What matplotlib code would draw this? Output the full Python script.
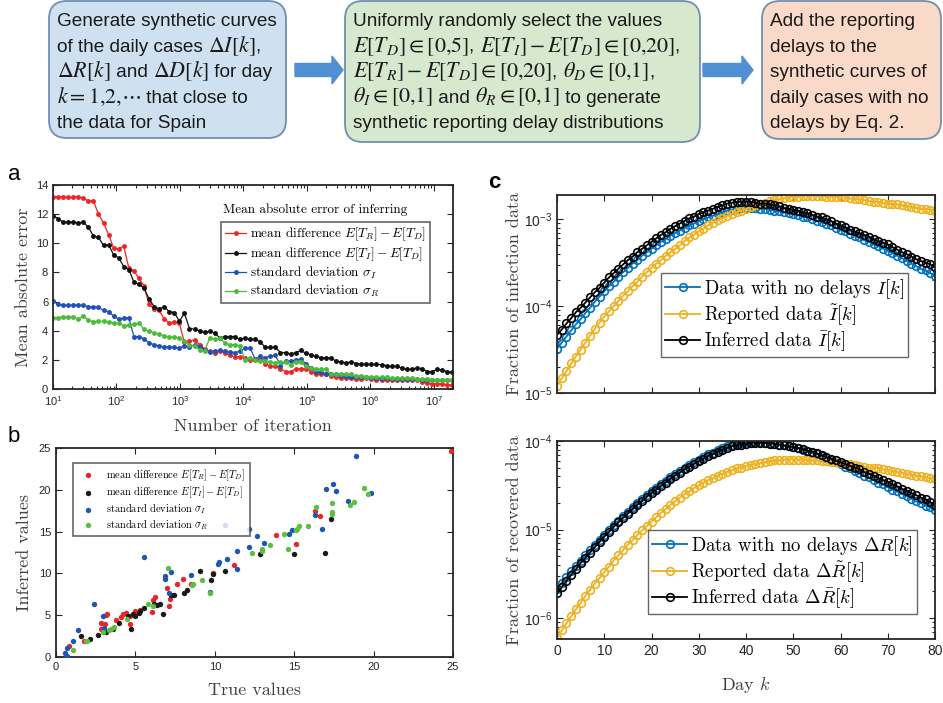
import numpy as np
import matplotlib
matplotlib.use('Agg')
import matplotlib.pyplot as plt
from matplotlib.patches import FancyBboxPatch, FancyArrow
from matplotlib.font_manager import FontProperties
from matplotlib.ticker import LogLocator, NullFormatter, MultipleLocator

plt.rcParams['font.family'] = ['Liberation Sans', 'DejaVu Sans']
plt.rcParams['mathtext.fontset'] = 'dejavusans'

# ---------------- data ----------------
# panel a: mean absolute error vs number of iteration (80 log-spaced iterations)
iterations = np.logspace(1, 7.29, 80)
mae_TR = [13.2, 13.2, 13.2, 13.15, 13.15, 13.2, 13.1, 12.9, 12.9, 12.0,
          11.4, 10.6, 9.65, 9.6, 9.8, 8.3, 8.1, 7.6, 7.1, 5.8,
          5.5, 5.4, 4.8, 4.55, 4.6, 4.5, 3.2, 3.3, 3.35, 3.05,
          2.75, 2.6, 2.5, 2.6, 2.5, 2.3, 2.2, 2.2, 2.15, 2.0,
          2.0, 2.05, 1.75, 1.55, 1.55, 1.35, 1.2, 1.2, 1.35, 1.4,
          1.4, 1.2, 1.05, 1.0, 1.05, 0.9, 0.85, 0.75, 0.75, 0.75,
          0.7, 0.7, 0.75, 0.7, 0.65, 0.6, 0.65, 0.6, 0.6, 0.6,
          0.6, 0.6, 0.65, 0.5, 0.4, 0.35, 0.35, 0.35, 0.3, 0.25]
mae_TI = [11.9, 11.7, 11.45, 11.45, 11.45, 11.4, 11.45, 11.1, 10.5, 10.4,
          9.85, 9.9, 9.2, 9.0, 8.4, 8.2, 7.35, 7.2, 6.9, 6.2,
          5.65, 5.5, 5.65, 5.3, 5.25, 4.65, 5.2, 4.15, 4.1, 4.0,
          3.9, 3.95, 3.85, 3.5, 3.6, 3.6, 3.6, 3.4, 3.5, 3.4,
          3.4, 3.25, 2.85, 2.85, 2.85, 2.5, 2.5, 2.4, 2.5, 2.65,
          2.45, 2.35, 2.25, 2.15, 2.15, 2.15, 1.9, 1.85, 1.8, 1.85,
          1.75, 1.7, 1.7, 1.7, 1.7, 1.65, 1.6, 1.55, 1.55, 1.45,
          1.35, 1.35, 1.45, 1.4, 1.2, 1.2, 1.35, 1.3, 1.2, 1.15]
mae_sI = [6.05, 5.8, 5.75, 5.75, 5.75, 5.75, 5.75, 5.65, 5.65, 5.6,
          5.4, 5.3, 5.0, 4.8, 4.85, 4.9, 3.6, 3.6, 3.45, 3.15,
          3.05, 2.95, 2.9, 2.9, 2.85, 2.8, 2.95, 2.85, 3.05, 2.9,
          2.7, 2.55, 2.6, 2.65, 2.6, 2.55, 2.5, 2.6, 2.8, 2.8,
          2.05, 2.25, 2.15, 2.25, 2.3, 1.6, 1.9, 1.9, 2.0, 2.05,
          1.75, 1.45, 1.2, 1.15, 1.05, 1.05, 1.0, 0.9, 0.9, 0.85,
          0.8, 0.8, 0.8, 0.75, 0.75, 0.7, 0.75, 0.7, 0.7, 0.7,
          0.7, 0.7, 0.7, 0.65, 0.6, 0.6, 0.6, 0.6, 0.6, 0.6]
mae_sR = [4.9, 4.9, 4.95, 4.95, 4.95, 4.8, 5.0, 4.75, 4.6, 4.65,
          4.65, 4.6, 4.55, 4.5, 4.35, 4.4, 4.45, 4.5, 4.1, 3.95,
          3.85, 3.75, 3.65, 3.55, 3.6, 3.5, 3.3, 3.05, 2.95, 2.7,
          2.6, 3.5, 3.4, 3.5, 3.15, 3.05, 3.05, 2.95, 2.0, 2.15,
          2.0, 1.9, 1.9, 1.85, 1.8, 1.85, 1.85, 1.65, 1.85, 1.85,
          1.55, 1.45, 1.4, 1.35, 1.35, 1.05, 1.0, 1.05, 1.0, 1.0,
          0.9, 0.9, 0.85, 0.85, 0.8, 0.8, 0.8, 0.75, 0.75, 0.75,
          0.75, 0.75, 0.7, 0.7, 0.7, 0.65, 0.65, 0.65, 0.65, 0.65]

# panel b: true vs inferred values
b_TR_x = [0.84, 1.77, 2.84, 2.84, 3.09, 3.16, 3.24, 3.77, 4.11, 4.25, 4.42, 4.67, 4.67, 4.99,
          5.26, 6.04, 6.11, 6.21, 6.99, 7.09, 7.16, 7.62, 7.98, 8.51, 9.87, 11.2, 13.87,
          15.14, 16.32, 16.63, 24.88]
b_TR_y = [1.36, 1.96, 3.37, 4.09, 3.93, 5.01, 5.17, 4.37, 4.81, 5.09, 5.21, 3.89, 4.89, 5.49,
          5.61, 5.37, 6.81, 7.21, 8.29, 6.09, 6.89, 8.77, 9.37, 8.77, 10.1, 10.98, 14.58,
          13.5, 17.43, 16.83, 24.6]
b_TI_x = [1.56, 2.15, 2.67, 3.16, 3.62, 3.94, 4.53, 4.72, 4.84, 4.99, 5.2, 5.31, 5.52, 6.15,
          6.36, 6.57, 6.72, 7.24, 7.45, 8.04, 8.25, 9.05, 9.79, 9.89, 10.67, 12.82, 14.99,
          16.93, 17.31]
b_TI_y = [2.56, 2.2, 2.68, 2.96, 3.29, 4.09, 4.89, 3.29, 5.09, 4.89, 5.29, 5.49, 5.81, 6.29,
          6.21, 6.29, 5.17, 7.37, 7.37, 7.69, 8.01, 10.3, 9.21, 9.9, 10.3, 12.3, 12.3,
          12.5, 16.5]
b_sI_x = [0.57, 0.67, 0.67, 1.05, 1.37, 2.42, 2.93, 3.03, 5.52, 6.84, 6.84, 7.09, 7.26, 8.51,
          9.68, 10.19, 10.29, 10.63, 10.78, 11.37, 11.41, 12.15, 12.15, 12.63, 13.09, 14.67,
          14.84, 16.29, 16.74, 16.99, 17.47, 17.62, 18.36, 18.88, 19.83]
b_sI_y = [0.48, 0.16, 1.08, 1.88, 3.21, 6.29, 4.89, 3.49, 11.98, 9.7, 9.29, 7.69, 10.18, 9.78,
          7.81, 11.1, 11.38, 15.79, 11.7, 12.7, 10.58, 15.3, 13.1, 14.42, 13.62, 14.7,
          15.18, 16.99, 15.3, 20.1, 20.7, 19.9, 18.7, 24.0, 19.63]
b_sR_x = [1.05, 1.89, 1.98, 2.95, 3.31, 3.47, 3.68, 4.46, 5.79, 6.11, 7.05, 8.57, 8.63, 9.2,
          9.68, 12.36, 12.99, 12.99, 13.47, 14.36, 14.61, 15.09, 15.2, 15.31, 15.87, 16.36,
          17.35, 17.35, 17.35, 18.53, 18.78, 19.37, 19.62]
b_sR_y = [0.88, 1.88, 1.88, 2.96, 3.21, 3.37, 3.61, 4.49, 6.37, 6.09, 10.62, 8.61, 8.69, 9.21,
          7.61, 12.42, 12.9, 12.7, 13.38, 14.7, 12.9, 15.22, 15.3, 15.7, 15.7, 17.91,
          18.43, 17.31, 17.11, 18.19, 18.51, 20.23, 19.51]

# panel c: daily fractions (log10), day 0..80
days = np.arange(81)
logI_true = [-4.49, -4.42, -4.35, -4.28, -4.21, -4.15, -4.08, -4.02, -3.95, -3.89,
             -3.83, -3.77, -3.72, -3.66, -3.61, -3.56, -3.51, -3.47, -3.42, -3.38,
             -3.34, -3.30, -3.26, -3.23, -3.19, -3.16, -3.13, -3.10, -3.07, -3.05,
             -3.02, -3.00, -2.98, -2.96, -2.94, -2.92, -2.90, -2.89, -2.88, -2.87,
             -2.87, -2.87, -2.87, -2.88, -2.88, -2.89, -2.90, -2.91, -2.92, -2.93,
             -2.94, -2.95, -2.97, -2.98, -3.00, -3.02, -3.03, -3.05, -3.07, -3.10,
             -3.12, -3.14, -3.17, -3.19, -3.21, -3.24, -3.26, -3.29, -3.31, -3.34,
             -3.36, -3.39, -3.42, -3.45, -3.48, -3.51, -3.54, -3.57, -3.59, -3.62, -3.65]
logI_rep = [-4.92, -4.83, -4.75, -4.66, -4.58, -4.50, -4.42, -4.34, -4.26, -4.19,
            -4.12, -4.06, -4.00, -3.94, -3.88, -3.83, -3.77, -3.72, -3.66, -3.61,
            -3.56, -3.51, -3.47, -3.42, -3.38, -3.34, -3.30, -3.25, -3.21, -3.18,
            -3.14, -3.11, -3.07, -3.04, -3.01, -2.99, -2.96, -2.94, -2.92, -2.90,
            -2.88, -2.86, -2.84, -2.82, -2.81, -2.79, -2.78, -2.77, -2.76, -2.75,
            -2.74, -2.74, -2.73, -2.73, -2.73, -2.73, -2.73, -2.74, -2.74, -2.74,
            -2.75, -2.75, -2.76, -2.77, -2.77, -2.78, -2.79, -2.80, -2.80, -2.81,
            -2.82, -2.83, -2.83, -2.84, -2.85, -2.86, -2.87, -2.88, -2.88, -2.89, -2.90]
logI_inf = [-4.33, -4.27, -4.20, -4.14, -4.07, -4.02, -3.96, -3.90, -3.84, -3.79,
            -3.73, -3.67, -3.62, -3.57, -3.52, -3.47, -3.43, -3.38, -3.34, -3.30,
            -3.26, -3.22, -3.18, -3.15, -3.11, -3.08, -3.05, -3.02, -2.99, -2.97,
            -2.94, -2.92, -2.90, -2.88, -2.86, -2.84, -2.82, -2.81, -2.80, -2.80,
            -2.80, -2.80, -2.81, -2.82, -2.82, -2.83, -2.84, -2.85, -2.87, -2.88,
            -2.89, -2.90, -2.92, -2.93, -2.95, -2.97, -2.98, -3.00, -3.02, -3.05,
            -3.07, -3.09, -3.12, -3.14, -3.16, -3.18, -3.20, -3.23, -3.25, -3.27,
            -3.29, -3.32, -3.35, -3.38, -3.40, -3.43, -3.46, -3.48, -3.50, -3.52, -3.55]
logR_true = [-5.67, -5.60, -5.54, -5.47, -5.41, -5.35, -5.29, -5.23, -5.17, -5.12,
             -5.06, -5.01, -4.95, -4.90, -4.85, -4.80, -4.75, -4.70, -4.66, -4.61,
             -4.57, -4.53, -4.49, -4.45, -4.41, -4.37, -4.34, -4.30, -4.27, -4.24,
             -4.21, -4.18, -4.15, -4.13, -4.10, -4.08, -4.06, -4.05, -4.03, -4.02,
             -4.01, -4.01, -4.01, -4.01, -4.02, -4.02, -4.03, -4.04, -4.05, -4.06,
             -4.07, -4.08, -4.10, -4.11, -4.13, -4.15, -4.17, -4.19, -4.21, -4.24,
             -4.26, -4.29, -4.31, -4.34, -4.36, -4.39, -4.41, -4.44, -4.47, -4.49,
             -4.52, -4.55, -4.57, -4.60, -4.62, -4.65, -4.68, -4.70, -4.73, -4.75, -4.78]
logR_rep = [-6.22, -6.14, -6.06, -5.98, -5.90, -5.83, -5.75, -5.68, -5.61, -5.55,
            -5.48, -5.42, -5.35, -5.29, -5.23, -5.17, -5.12, -5.06, -5.01, -4.96,
            -4.91, -4.86, -4.81, -4.77, -4.72, -4.68, -4.64, -4.60, -4.57, -4.53,
            -4.50, -4.47, -4.44, -4.42, -4.39, -4.37, -4.35, -4.33, -4.31, -4.30,
            -4.28, -4.27, -4.26, -4.25, -4.24, -4.23, -4.22, -4.22, -4.21, -4.21,
            -4.21, -4.21, -4.21, -4.22, -4.22, -4.22, -4.23, -4.23, -4.24, -4.24,
            -4.25, -4.26, -4.26, -4.27, -4.28, -4.29, -4.30, -4.30, -4.31, -4.32,
            -4.33, -4.34, -4.35, -4.36, -4.37, -4.38, -4.39, -4.40, -4.41, -4.42, -4.43]
logR_inf = [-5.72, -5.65, -5.58, -5.51, -5.45, -5.38, -5.32, -5.26, -5.20, -5.14,
            -5.08, -5.03, -4.97, -4.92, -4.87, -4.82, -4.77, -4.72, -4.68, -4.63,
            -4.59, -4.55, -4.51, -4.47, -4.43, -4.39, -4.36, -4.32, -4.29, -4.26,
            -4.23, -4.20, -4.17, -4.15, -4.12, -4.10, -4.08, -4.06, -4.05, -4.04,
            -4.03, -4.02, -4.02, -4.02, -4.02, -4.03, -4.03, -4.04, -4.05, -4.06,
            -4.07, -4.08, -4.09, -4.11, -4.12, -4.14, -4.16, -4.18, -4.20, -4.22,
            -4.24, -4.26, -4.28, -4.30, -4.32, -4.35, -4.37, -4.39, -4.42, -4.44,
            -4.46, -4.49, -4.51, -4.54, -4.56, -4.59, -4.61, -4.64, -4.66, -4.69, -4.72]

# flowchart text: each line is a list of segments, math segments start with '$'
box1_lines = [["Generate synthetic curves"],
              ["of the daily cases ", r"$\Delta I[k]$", ","],
              [r"$\Delta R[k]$", " and ", r"$\Delta D[k]$", " for day"],
              [r"$k = 1{,}2{,}\cdots$", " that close to"],
              ["the data for Spain"]]
box2_lines = [["Uniformly randomly select the values"],
              [r"$E[T_D] \in [0{,}5]$", ", ", r"$E[T_I] - E[T_D] \in [0{,}20]$", ","],
              [r"$E[T_R] - E[T_D] \in [0{,}20]$", ", ", r"$\theta_D \in [0{,}1]$", ","],
              [r"$\theta_I \in [0{,}1]$", " and ", r"$\theta_R \in [0{,}1]$", " to generate"],
              ["synthetic reporting delay distributions"]]
box3_lines = [["Add the reporting"], ["delays to the"], ["synthetic curves of"],
              ["daily cases with no"], ["delays by Eq. 2."]]

# ---------------- figure ----------------
W, H = 943, 703
fig = plt.figure(figsize=(W / 100, H / 100), dpi=100)
renderer = fig.canvas.get_renderer()

# overlay in pixel coordinates for the flowchart and panel letters
ax0 = fig.add_axes([0, 0, 1, 1])
ax0.set_xlim(0, W)
ax0.set_ylim(H, 0)
ax0.axis('off')

TXT_SIZE, MATH_SIZE = 13.7, 15.8


def write_line(x, y, segments):
    # place the segments one after another on a common baseline
    for seg in segments:
        size = MATH_SIZE if seg.startswith('$') else TXT_SIZE
        t = ax0.text(x, y, seg, fontsize=size, family='Liberation Sans',
                     math_fontfamily='stix', color='#1a1a1a', va='baseline', ha='left')
        x += t.get_window_extent(renderer=renderer).width


boxes = [(49, 1, 237, 137, '#cfe0f1', box1_lines),
         (345, 1, 355, 141, '#d6e9cf', box2_lines),
         (762, 1, 179, 138, '#f9d9c7', box3_lines)]
for (bx, by, bw, bh, fc, lines) in boxes:
    ax0.add_patch(FancyBboxPatch((bx, by), bw, bh,
                                 boxstyle='round,pad=0,rounding_size=18',
                                 fc=fc, ec='#6f8fb2', lw=1.3))
    for i, ln in enumerate(lines):
        write_line(bx + 8, by + 25.5 + 25.4 * i, ln)

for (x0, x1) in [(295, 343), (703, 753)]:
    ax0.add_patch(FancyArrow(x0, 70, x1 - x0, 0, width=13, head_width=28,
                             head_length=11, length_includes_head=True,
                             fc='#4f8fd2', ec='#4f8fd2'))

ax0.text(14, 175, 'a', fontsize=16, ha='center', va='center')
ax0.text(14, 437, 'b', fontsize=16, ha='center', va='center')
ax0.text(494, 182, 'c', fontsize=16, fontweight='bold', ha='center', va='center')

gray = '#262626'


def fp(size):
    return FontProperties(family='cmr10', size=size, math_fontfamily='cm')


def matlab_axes(ax, size):
    for s in ax.spines.values():
        s.set_color(gray)
        s.set_linewidth(1.3)
    ax.tick_params(which='both', direction='in', top=True, right=True,
                   colors=gray, labelsize=size, width=0.8)
    ax.tick_params(which='major', length=4)
    ax.tick_params(which='minor', length=2)


def px_axes(l, t, r, b):
    return fig.add_axes([l / W, 1 - b / H, (r - l) / W, (b - t) / H])


# ---- panel a ----
axa = px_axes(53, 185, 453, 389)
cols = ['#f02424', '#111111', '#2050b8', '#4cbb3c']
labels_a = [r'mean difference $E[T_R]-E[T_D]$', r'mean difference $E[T_I]-E[T_D]$',
            r'standard deviation $\sigma_I$', r'standard deviation $\sigma_R$']
for ys, c, lb in zip([mae_TR, mae_TI, mae_sI, mae_sR], cols, labels_a):
    axa.plot(iterations, ys, '-', color=c, lw=0.9, marker='.', ms=5, label=lb)
axa.set_xscale('log')
axa.set_xlim(10, 2e7)
axa.set_ylim(0, 14)
axa.yaxis.set_major_locator(MultipleLocator(2))
matlab_axes(axa, 8)
axa.set_ylabel('Mean absolute error', fontproperties=fp(13), color='#404040', labelpad=3)
axa.set_xlabel('Number of iteration', fontproperties=fp(13), color='#404040', labelpad=8)
leg = axa.legend(loc='upper right', bbox_to_anchor=(0.9425, 0.819), prop=fp(9.5),
                 frameon=True, fancybox=False, edgecolor='#404040', handlelength=1.6,
                 handletextpad=0.3, borderpad=0.3, labelspacing=0.15, borderaxespad=0)
leg.get_frame().set_linewidth(1.2)
axa.text(0.425, 0.88, 'Mean absolute error of inferring', transform=axa.transAxes,
         fontproperties=fp(9.5), va='center', ha='left')

# ---- panel b ----
axb = px_axes(56, 448, 453, 657)
for xs, ys, c, lb in zip([b_TR_x, b_TI_x, b_sI_x, b_sR_x], [b_TR_y, b_TI_y, b_sI_y, b_sR_y],
                         ['#e8262a', '#1a1a1a', '#1f56b4', '#5bbf3f'], labels_a):
    axb.scatter(xs, ys, s=15, color=c, lw=0, label=lb, zorder=3)
axb.set_xlim(0, 25)
axb.set_ylim(0, 25)
axb.xaxis.set_major_locator(MultipleLocator(5))
axb.yaxis.set_major_locator(MultipleLocator(5))
matlab_axes(axb, 8)
axb.set_ylabel('Inferred values', fontproperties=fp(13), color='#404040', labelpad=5)
axb.set_xlabel('True values', fontproperties=fp(13), color='#404040', labelpad=8)
legb = axb.legend(loc='upper left', bbox_to_anchor=(0.043, 0.928), prop=fp(7.5),
                  frameon=True, fancybox=False, edgecolor='#404040', handletextpad=0.8,
                  borderpad=0.4, labelspacing=0.2, borderaxespad=0, scatterpoints=1)
legb.get_frame().set_linewidth(1.2)

# ---- panel c ----
c_cols = ['#0072BD', '#EDB120', '#000000']
axc1 = px_axes(557, 195, 935, 393)
axc2 = px_axes(557, 441, 935, 639)
lab_I = [r'Data with no delays $I[k]$', r'Reported data $\tilde{I}[k]$',
         r'Inferred data $\bar{I}[k]$']
lab_R = [r'Data with no delays $\Delta R[k]$', r'Reported data $\Delta\tilde{R}[k]$',
         r'Inferred data $\Delta\bar{R}[k]$']
for ax, series, labs in [(axc1, [logI_true, logI_rep, logI_inf], lab_I),
                         (axc2, [logR_true, logR_rep, logR_inf], lab_R)]:
    for ys, c, lb in zip(series, c_cols, labs):
        ax.plot(days, 10 ** np.array(ys), '-', color=c, lw=1.3, marker='o', ms=5.5,
                mfc='none', mew=1.2, label=lb)
    ax.set_yscale('log')
    ax.set_xlim(0, 80)
    ax.xaxis.set_major_locator(MultipleLocator(10))
    ax.yaxis.set_major_locator(LogLocator(base=10))
    ax.yaxis.set_minor_locator(LogLocator(base=10, subs=np.arange(2, 10)))
    ax.yaxis.set_minor_formatter(NullFormatter())
    matlab_axes(ax, 10)

axc1.set_ylim(1e-5, 1.9e-3)
axc2.set_ylim(5.8e-7, 1e-4)
axc1.tick_params(labelbottom=False)
axc1.set_ylabel('Fraction of infection data', fontproperties=fp(13), color='#404040', labelpad=1)
axc2.set_ylabel('Fraction of recovered data', fontproperties=fp(13), color='#404040', labelpad=1)
axc2.set_xlabel(r'Day $k$', fontproperties=fp(13), color='#404040', labelpad=12)

for ax, anchor in [(axc1, (0.929, 0.182)), (axc2, (0.952, 0.126))]:
    lg = ax.legend(loc='lower right', bbox_to_anchor=anchor, prop=fp(13.5), frameon=True,
                   fancybox=False, edgecolor='#404040', handlelength=1.9,
                   handletextpad=0.2, borderpad=0.2, labelspacing=0.1, borderaxespad=0)
    lg.get_frame().set_linewidth(1.0)

fig.savefig('out.png', dpi=100)
